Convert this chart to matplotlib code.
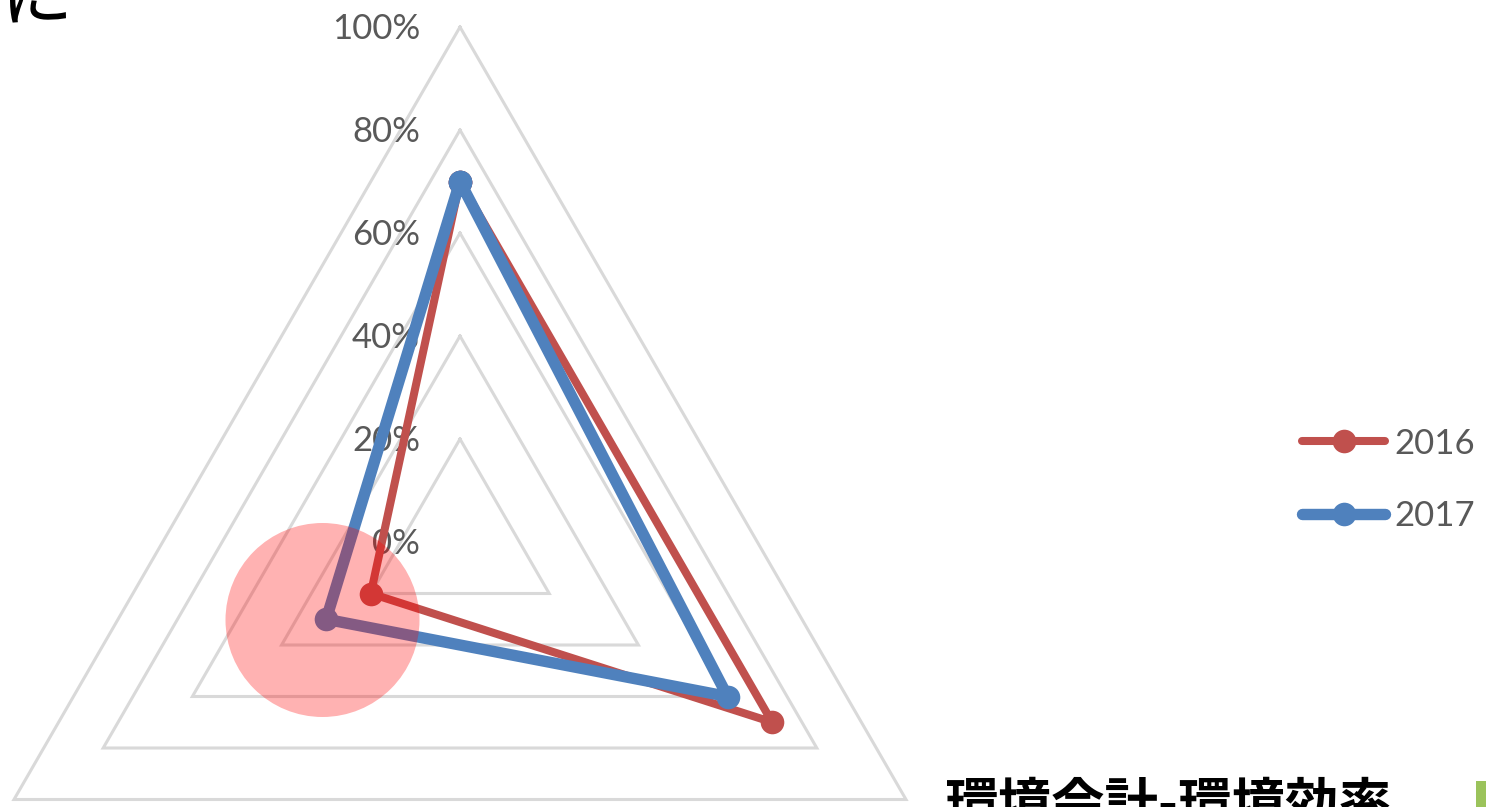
import numpy as np
import matplotlib
matplotlib.use("Agg")
import matplotlib.pyplot as plt
from matplotlib.patches import Circle, Rectangle

# ---- data ----
categories = ["A", "B", "C"]          # category labels are not visible in the crop
series_names = ["2016", "2017"]
values_2016 = [0.70, 0.70, 0.20]
values_2017 = [0.70, 0.60, 0.30]
grid_levels = [0.2, 0.4, 0.6, 0.8, 1.0]
tick_levels = [0.0, 0.2, 0.4, 0.6, 0.8, 1.0]
tick_labels = ["0%", "20%", "40%", "60%", "80%", "100%"]
bottom_title = "環境会計-環境効率"
top_fragment = "に"

colors = {"2016": "#C0504D", "2017": "#4F81BD"}
grid_color = "#D9D9D9"
text_grey = "#595959"

plt.rcParams['font.family'] = ['Lato', 'DejaVu Sans']

W, H = 1486, 807
fig = plt.figure(figsize=(W / 100, H / 100), dpi=100)
fig.patch.set_facecolor("white")

# polar axes: centre (460, 542 from top), radius 515 px
cx, cy, R = 460, H - 542, 515
ax = fig.add_axes([(cx - R) / W, (cy - R) / H, 2 * R / W, 2 * R / H],
                  projection="polar")
ax.set_theta_zero_location("N")
ax.set_theta_direction(-1)
ax.set_ylim(0, 1)
ax.set_xticks([])
ax.set_yticks([])
ax.grid(False)
ax.spines["polar"].set_visible(False)
ax.patch.set_visible(False)

n = len(categories)
angles = np.arange(n) * 2 * np.pi / n
ang_closed = np.append(angles, angles[0])

# triangular grid
for lv in grid_levels:
    ax.plot(ang_closed, [lv] * (n + 1), color=grid_color, lw=2.2,
            solid_joinstyle="miter", clip_on=False, zorder=1)

# tick labels along vertical axis
for lv, lab in zip(tick_levels, tick_labels):
    ax.annotate(lab, xy=(0, lv), xytext=(-40, -12), textcoords="offset pixels",
                ha="right", va="baseline", fontsize=25, color=text_grey,
                annotation_clip=False, zorder=2)

# series
series = {"2016": values_2016, "2017": values_2017}
widths = {"2016": 5.8, "2017": 8.2}
handles = []
for name in series_names:
    vals = series[name]
    h, = ax.plot(ang_closed, list(vals) + [vals[0]], color=colors[name],
                 lw=widths[name], marker="o", markersize=17, markeredgewidth=0,
                 solid_capstyle="round", solid_joinstyle="round",
                 clip_on=False, zorder=3, label=name)
    handles.append(h)

# legend
leg = fig.legend(handles=handles, labels=series_names, loc="center left",
                 bbox_to_anchor=(1302 / W, (H - 480) / H), frameon=False,
                 fontsize=25, handlelength=2.4, handletextpad=0.25,
                 labelspacing=1.18, borderpad=0, borderaxespad=0)
for t in leg.get_texts():
    t.set_color(text_grey)

# translucent red highlight circle
fig.add_artist(Circle((3.225, (H - 620) / 100), 0.97, transform=fig.dpi_scale_trans,
                      facecolor=(1, 0, 0, 0.3), edgecolor="none", zorder=10))

# clipped texts at edges
fig.text(945 / W, (H - 822) / H, bottom_title, fontsize=38.5, fontweight="bold",
         color="black", ha="left", va="baseline",
         family=["Noto Sans CJK JP", "DejaVu Sans"])
fig.text(0 / W, (H - 20) / H, top_fragment, fontsize=52, color="black",
         ha="left", va="baseline", family=["Noto Sans CJK JP", "DejaVu Sans"])

# green bar at bottom right
fig.add_artist(Rectangle((14.76, 0), 0.12, 0.26, transform=fig.dpi_scale_trans,
                         facecolor="#9BC35B", edgecolor="none"))

fig.savefig("out.png", dpi=100)
